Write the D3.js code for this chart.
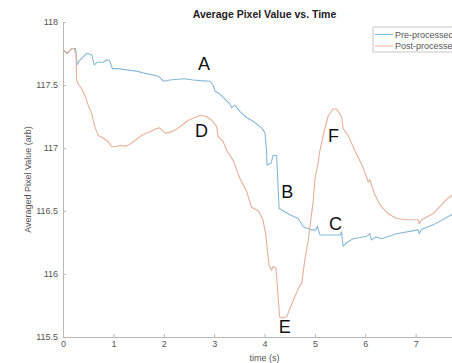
<!DOCTYPE html>
<html>
<head>
<meta charset="utf-8">
<script src="https://cdn.jsdelivr.net/npm/d3@7"></script>
<style>
  body { margin: 0; background: #fff; }
  svg { display: block; font-family: "Liberation Sans", Arial, sans-serif; }
</style>
</head>
<body>
<script>
// Pre-processed (blue) series: time (s) and pixel value
const preTime = [0.00, 0.09, 0.18, 0.25, 0.28, 0.34, 0.39, 0.47, 0.57, 0.62, 0.68, 0.80, 0.87, 0.93, 0.98,
  1.10, 1.26, 1.46, 1.66, 1.89, 2.00, 2.12, 2.39, 2.59, 2.72, 2.92, 2.98, 3.02, 3.11, 3.21, 3.31, 3.35,
  3.41, 3.51, 3.65, 3.78, 3.94, 4.01, 4.04, 4.05, 4.13, 4.17, 4.24, 4.29, 4.34, 4.50, 4.67, 4.77, 4.93,
  5.02, 5.05, 5.10, 5.50, 5.53, 5.56, 5.63, 5.76, 6.03, 6.09, 6.12, 6.21, 6.32, 6.62, 7.05, 7.07, 7.12,
  7.35, 7.71, 7.80];
const preValue = [117.78, 117.75, 117.79, 117.79, 117.66, 117.70, 117.72, 117.75, 117.74, 117.66, 117.68,
  117.68, 117.70, 117.69, 117.63, 117.63, 117.62, 117.61, 117.59, 117.57, 117.53, 117.54, 117.55, 117.54,
  117.535, 117.53, 117.50, 117.45, 117.43, 117.39, 117.35, 117.32, 117.34, 117.29, 117.24, 117.21, 117.16,
  117.12, 116.98, 116.865, 116.88, 116.94, 116.94, 116.52, 116.51, 116.47, 116.44, 116.375, 116.35, 116.35,
  116.38, 116.31, 116.31, 116.335, 116.22, 116.25, 116.28, 116.30, 116.32, 116.27, 116.295, 116.28, 116.32,
  116.35, 116.32, 116.355, 116.39, 116.47, 116.49];

// Post-processed (orange) series
const postTime = [0.00, 0.07, 0.12, 0.17, 0.22, 0.26, 0.27, 0.30, 0.37, 0.44, 0.50, 0.57, 0.60, 0.64, 0.70,
  0.77, 0.87, 0.97, 1.03, 1.13, 1.26, 1.40, 1.56, 1.73, 1.86, 1.92, 2.02, 2.09, 2.22, 2.39, 2.49, 2.58,
  2.72, 2.85, 2.95, 3.05, 3.08, 3.18, 3.25, 3.38, 3.51, 3.65, 3.74, 3.88, 3.97, 4.03, 4.07, 4.09, 4.14,
  4.17, 4.23, 4.27, 4.30, 4.34, 4.44, 4.57, 4.69, 4.74, 4.80, 4.87, 4.91, 4.97, 5.00, 5.05, 5.10, 5.16,
  5.26, 5.36, 5.43, 5.53, 5.56, 5.66, 5.79, 5.93, 6.06, 6.09, 6.12, 6.19, 6.29, 6.45, 6.62, 6.82, 7.05,
  7.07, 7.12, 7.35, 7.61, 7.80];
const postValue = [117.78, 117.75, 117.77, 117.79, 117.79, 117.74, 117.54, 117.51, 117.47, 117.41, 117.34,
  117.275, 117.22, 117.16, 117.10, 117.085, 117.06, 117.01, 117.01, 117.02, 117.015, 117.05, 117.10, 117.13,
  117.155, 117.16, 117.12, 117.12, 117.14, 117.19, 117.22, 117.235, 117.26, 117.25, 117.22, 117.17, 117.09,
  117.05, 116.98, 116.90, 116.76, 116.65, 116.53, 116.50, 116.43, 116.30, 116.14, 116.07, 116.03, 116.06,
  116.045, 115.82, 115.66, 115.65, 115.66, 115.79, 115.90, 115.93, 116.11, 116.27, 116.40, 116.59, 116.75,
  116.85, 116.98, 117.09, 117.25, 117.31, 117.31, 117.25, 117.155, 117.10, 116.98, 116.87, 116.73, 116.75,
  116.71, 116.63, 116.55, 116.48, 116.44, 116.43, 116.43, 116.40, 116.43, 116.48, 116.59, 116.65];

// Annotation letters
const noteText = ['A', 'D', 'B', 'C', 'E', 'F'];
const noteTime = [2.80, 2.75, 4.45, 5.41, 4.40, 5.37];
const noteValue = [117.62, 117.09, 116.60, 116.35, 115.53, 117.05];

const seriesNames = ['Pre-processed', 'Post-processed'];
const xTicks = [0, 1, 2, 3, 4, 5, 6, 7];
const yTicks = [115.5, 116, 116.5, 117, 117.5, 118];

const svgWidth = 452, svgHeight = 363;
const margin = { top: 22, left: 63, bottom: 26 };
const plotWidth = 403; // axes run past the right edge of the window
const plotHeight = svgHeight - margin.top - margin.bottom;

const blue = '#86b9d6', orange = '#e6b099', axisGrey = '#b8b8b8', textGrey = '#555';

const svg = d3.select('body').append('svg')
  .attr('width', svgWidth)
  .attr('height', svgHeight);

const g = svg.append('g')
  .attr('transform', `translate(${margin.left},${margin.top})`);

const x = d3.scaleLinear().domain([0, 8]).range([0, plotWidth]);
const y = d3.scaleLinear().domain([115.5, 118]).range([plotHeight, 0]);

// Eixos
const xAxis = g.append('g')
  .attr('transform', `translate(0,${plotHeight})`)
  .call(d3.axisBottom(x).tickValues(xTicks).tickSize(-3).tickSizeOuter(0).tickPadding(4));
const yAxis = g.append('g')
  .call(d3.axisLeft(y).tickValues(yTicks).tickFormat(d => d).tickSize(-3).tickSizeOuter(0).tickPadding(5));

[xAxis, yAxis].forEach(a => {
  a.selectAll('path, line').attr('stroke', axisGrey);
  a.selectAll('text').attr('fill', textGrey).style('font-size', '9px').style('font-family', '"Liberation Sans", Arial, sans-serif');
});

// Linhas
const line = d3.line().x(d => x(d[0])).y(d => y(d[1]));
const preData = preTime.map((t, i) => [t, preValue[i]]);
const postData = postTime.map((t, i) => [t, postValue[i]]);

g.append('path').datum(preData)
  .attr('fill', 'none').attr('stroke', blue).attr('stroke-width', 1.1)
  .attr('stroke-linejoin', 'round').attr('d', line);
g.append('path').datum(postData)
  .attr('fill', 'none').attr('stroke', orange).attr('stroke-width', 1.1)
  .attr('stroke-linejoin', 'round').attr('d', line);

// Letras
g.selectAll('.note')
  .data(noteText)
  .enter()
  .append('text')
  .attr('x', (d, i) => x(noteTime[i]))
  .attr('y', (d, i) => y(noteValue[i]))
  .attr('text-anchor', 'middle')
  .style('font-size', '18px')
  .attr('fill', '#111')
  .text(d => d);

// Título e rótulos
svg.append('text')
  .attr('x', margin.left + plotWidth / 2).attr('y', 18)
  .attr('text-anchor', 'middle')
  .style('font-size', '10.5px').style('font-weight', 'bold')
  .attr('fill', '#222')
  .text('Average Pixel Value vs. Time');

svg.append('text')
  .attr('x', margin.left + plotWidth / 2).attr('y', 361)
  .attr('text-anchor', 'middle')
  .style('font-size', '9px')
  .attr('fill', textGrey)
  .text('time (s)');

svg.append('text')
  .attr('transform', `translate(31,${margin.top + plotHeight / 2}) rotate(-90)`)
  .attr('text-anchor', 'middle')
  .style('font-size', '9px')
  .attr('fill', textGrey)
  .text('Averaged Pixel Value (arb)');

// Legenda
const legend = svg.append('g').attr('transform', 'translate(373,27)');
legend.append('rect')
  .attr('width', 110).attr('height', 25)
  .attr('fill', '#fff').attr('stroke', '#c8c8c8').attr('stroke-width', 1);
seriesNames.forEach((name, i) => {
  const yy = 7.5 + i * 11.5;
  legend.append('line')
    .attr('x1', 2).attr('x2', 20).attr('y1', yy).attr('y2', yy)
    .attr('stroke', i === 0 ? blue : orange).attr('stroke-width', 1);
  legend.append('text')
    .attr('x', 22).attr('y', yy + 3)
    .style('font-size', '9px')
    .attr('fill', textGrey)
    .text(name);
});
</script>
</body>
</html>
